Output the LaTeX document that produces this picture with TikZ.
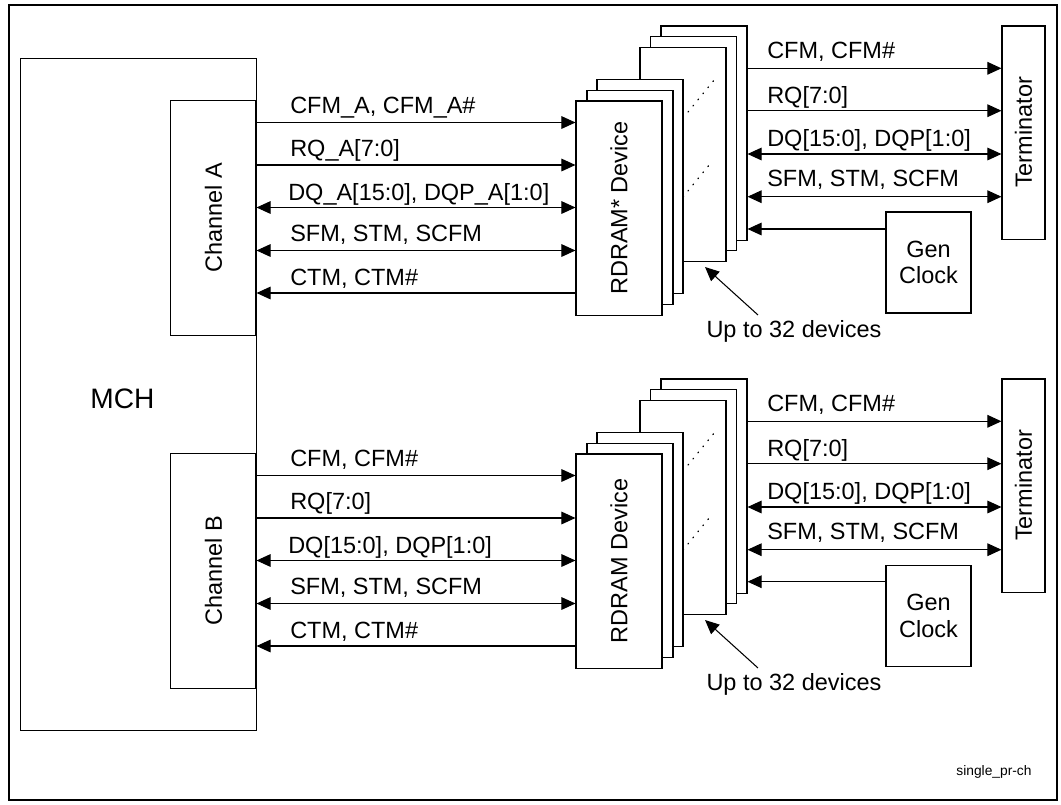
\documentclass[tikz,border=0pt]{standalone}
\usepackage{fontspec}
\setmainfont{Liberation Sans}
\usetikzlibrary{arrows.meta}
\newcommand{\sigsize}{\fontsize{16.7pt}{19pt}\selectfont}
\tikzset{
	box/.style={draw, line width=0.75pt, fill=white, inner sep=0pt},
	devbox/.style={box, minimum width=2.15cm, minimum height=5.35cm},
	fwd/.style={line width=0.75pt, -{Triangle[length=10pt,width=9pt]}},
	bidi/.style={line width=0.75pt, {Triangle[length=10pt,width=9pt]}-{Triangle[length=10pt,width=9pt]}},
	lbl/.style={anchor=base west, inner sep=0pt},
	dots/.style={line width=0.9pt, dash pattern=on 0.6pt off 5pt, line cap=round}
}
\begin{document}
\begin{tikzpicture}[x=0.025cm, y=-0.025cm, font=\sigsize]
				\useasboundingbox (0,0) rectangle (1061,804);
				\draw[line width=1.2pt] (8.7,5) rectangle (1057,800);

				% MCH with its two channels
				\node[box, minimum width=5.88cm, minimum height=16.81cm] (mch) at (138.4,394.5) {};
				\node[font=\fontsize{20pt}{24pt}\selectfont] (mchtext) at (122.5,399) {MCH};
				\node[box, minimum width=2.13cm, minimum height=5.86cm] (chA) at (213.4,217.9) {};
				\node[rotate=90] at (chA) {Channel A};
				\node[box, minimum width=2.13cm, minimum height=5.88cm] (chB) at (213.4,570.7) {};
				\node[rotate=90] at (chB) {Channel B};

				% Channel A devices
				\node[devbox] (devA6) at (704,133) {};
				\node[devbox] (devA5) at (693.5,143.5) {};
				\node[devbox] (devA4) at (683,154.5) {};
				\node[devbox] (devA3) at (640,186.5) {};
				\node[devbox] (devA2) at (630,197.5) {};
				\node[devbox] (devA1) at (619,208) {};
				\node[rotate=90] at (devA1) {RDRAM* Device};
				\draw[dots] (688,112) -- (715,79);
				\draw[dots] (683,197) -- (710,164);

				% Channel A signals
				\draw[fwd] (chA.east |- 0,122.5) -- (devA1.west |- 0,122.5);
				\node[lbl] at (290,113.4) {CFM\_A, CFM\_A\#};
				\draw[fwd] (chA.east |- 0,165) -- (devA1.west |- 0,165);
				\node[lbl] at (290,156.4) {RQ\_A[7:0]};
				\draw[bidi] (chA.east |- 0,207.5) -- (devA1.west |- 0,207.5);
				\node[lbl] at (288,200.4) {DQ\_A[15:0], DQP\_A[1:0]};
				\draw[bidi] (chA.east |- 0,250.5) -- (devA1.west |- 0,250.5);
				\node[lbl] at (290,241.4) {SFM, STM, SCFM};
				\draw[fwd] (devA1.west |- 0,293) -- (chA.east |- 0,293);
				\node[lbl] at (290,285.4) {CTM, CTM\#};

				% Channel A terminator and clock
				\node[box, minimum width=1.075cm, minimum height=5.325cm] (termA) at (1023.5,132.5) {};
				\node[rotate=90] at (termA) {Terminator};
				\node[box, minimum width=2.125cm, minimum height=2.525cm, align=center] (genA) at (928.5,262.5) {Gen\\Clock};
				\draw[fwd] (devA6.east |- 0,68.3) -- (termA.west |- 0,68.3);
				\node[lbl] at (767,58.4) {CFM, CFM\#};
				\draw[fwd] (devA6.east |- 0,110.7) -- (termA.west |- 0,110.7);
				\node[lbl] at (767,103.4) {RQ[7:0]};
				\draw[bidi] (devA6.east |- 0,154) -- (termA.west |- 0,154);
				\node[lbl] at (767,146.4) {DQ[15:0], DQP[1:0]};
				\draw[bidi] (devA6.east |- 0,196.7) -- (termA.west |- 0,196.7);
				\node[lbl] at (767,186.4) {SFM, STM, SCFM};
				\draw[fwd] (genA.west |- 0,229) -- (devA6.east |- 0,229);

				% Channel A device count
				\node[inner sep=0pt] (upA) at (794,331) {Up to 32 devices};
				\coordinate (tipA) at (705,267);
				\draw[fwd] ([xshift=-0.9cm, yshift=0.12cm]upA.north) -- (tipA);

				% Channel B devices
				\node[devbox] (devB6) at (704,486) {};
				\node[devbox] (devB5) at (693.5,496.5) {};
				\node[devbox] (devB4) at (683,507.5) {};
				\node[devbox] (devB3) at (640,539.5) {};
				\node[devbox] (devB2) at (630,550.5) {};
				\node[devbox] (devB1) at (619,561) {};
				\node[rotate=90] at (devB1) {RDRAM Device};
				\draw[dots] (688,465) -- (715,432);
				\draw[dots] (683,550) -- (710,517);

				% Channel B signals
				\draw[fwd] (chB.east |- 0,475.5) -- (devB1.west |- 0,475.5);
				\node[lbl] at (290,466.4) {CFM, CFM\#};
				\draw[fwd] (chB.east |- 0,518) -- (devB1.west |- 0,518);
				\node[lbl] at (290,509.4) {RQ[7:0]};
				\draw[bidi] (chB.east |- 0,560.5) -- (devB1.west |- 0,560.5);
				\node[lbl] at (288,553.4) {DQ[15:0], DQP[1:0]};
				\draw[bidi] (chB.east |- 0,603.5) -- (devB1.west |- 0,603.5);
				\node[lbl] at (290,594.4) {SFM, STM, SCFM};
				\draw[fwd] (devB1.west |- 0,646) -- (chB.east |- 0,646);
				\node[lbl] at (290,638.4) {CTM, CTM\#};

				% Channel B terminator and clock
				\node[box, minimum width=1.075cm, minimum height=5.325cm] (termB) at (1023.5,485.5) {};
				\node[rotate=90] at (termB) {Terminator};
				\node[box, minimum width=2.125cm, minimum height=2.525cm, align=center] (genB) at (928.5,616) {Gen\\Clock};
				\draw[fwd] (devB6.east |- 0,421.3) -- (termB.west |- 0,421.3);
				\node[lbl] at (767,411.4) {CFM, CFM\#};
				\draw[fwd] (devB6.east |- 0,463.7) -- (termB.west |- 0,463.7);
				\node[lbl] at (767,456.4) {RQ[7:0]};
				\draw[bidi] (devB6.east |- 0,507) -- (termB.west |- 0,507);
				\node[lbl] at (767,499.4) {DQ[15:0], DQP[1:0]};
				\draw[bidi] (devB6.east |- 0,549.7) -- (termB.west |- 0,549.7);
				\node[lbl] at (767,539.4) {SFM, STM, SCFM};
				\draw[fwd] (genB.west |- 0,581.7) -- (devB6.east |- 0,581.7);

				% Channel B device count
				\node[inner sep=0pt] (upB) at (794,684) {Up to 32 devices};
				\coordinate (tipB) at (705,620);
				\draw[fwd] ([xshift=-0.9cm, yshift=0.12cm]upB.north) -- (tipB);

				\node[font=\fontsize{9.8pt}{12pt}\selectfont] (figname) at (994,772) {single\_pr-ch};
\end{tikzpicture}
\end{document}
